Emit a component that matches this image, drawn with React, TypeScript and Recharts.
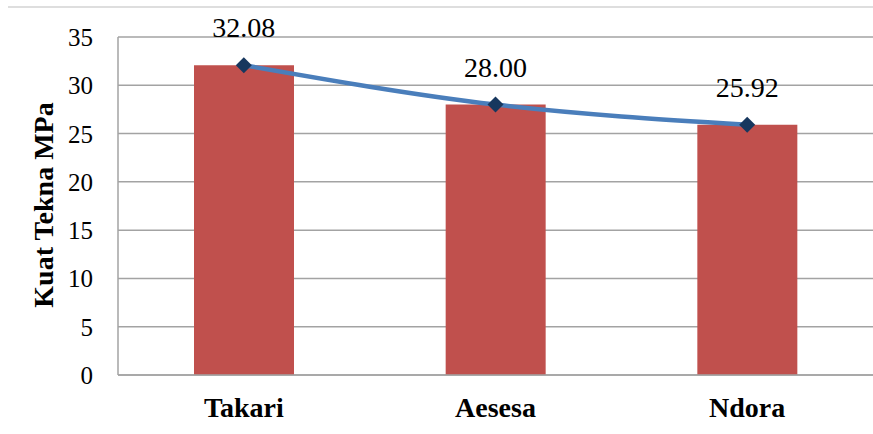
import React from "react";
import {
  ComposedChart, Bar, Line, XAxis, YAxis, CartesianGrid, LabelList, Label,
} from "recharts";

const SITES = ["Takari", "Aesesa", "Ndora"];
const STRENGTH = [32.08, 28.0, 25.92];
const Y_TICKS = [0, 5, 10, 15, 20, 25, 30, 35];

const SERIF = '"Liberation Serif", "Times New Roman", serif';
const GRID = "#a3a3a3";

const rows = SITES.map((site, i) => ({ site, bar: STRENGTH[i], line: STRENGTH[i] }));

// dark diamond marker on the trend line
const Diamond = (props: any) => {
  const { cx, cy, index } = props;
  const r = 8;
  return (
    <path
      key={`d-${index}`}
      d={`M${cx},${cy - r}L${cx + r},${cy}L${cx},${cy + r}L${cx - r},${cy}Z`}
      fill="#17375e"
    />
  );
};

const YTick = (props: any) => {
  const { x, y, payload } = props;
  return (
    <text x={x} y={y} dy={9} textAnchor="end" fontFamily={SERIF} fontSize={25} fill="#000">
      {payload.value}
    </text>
  );
};

const XTick = (props: any) => {
  const { x, y, payload } = props;
  return (
    <text x={x} y={y} dy={42} textAnchor="middle" fontFamily={SERIF} fontSize={28} fontWeight={700} fill="#000">
      {payload.value}
    </text>
  );
};

const ValueLabel = (props: any) => {
  const { x, y, value } = props;
  return (
    <text x={x} y={y - 28} textAnchor="middle" fontFamily={SERIF} fontSize={28} fill="#000">
      {Number(value).toFixed(2)}
    </text>
  );
};

export default function App() {
  return (
    <div style={{ position: "absolute", left: 0, top: 0, width: 873, height: 434, background: "#fff", fontFamily: SERIF }}>
      <div style={{ position: "absolute", left: 8, top: 6, width: 865, height: 2, background: "#dedede" }} />
      <ComposedChart
        width={873}
        height={434}
        data={rows}
        margin={{ top: 37, right: 0, bottom: 0, left: 0 }}
      >
        <CartesianGrid vertical={false} stroke={GRID} strokeWidth={1.5} />
        <XAxis
          dataKey="site"
          height={59}
          axisLine={{ stroke: GRID, strokeWidth: 1.5 }}
          tickLine={false}
          tickSize={0}
          tickMargin={0}
          tick={<XTick />}
        />
        <YAxis
          width={118}
          domain={[0, 35]}
          ticks={Y_TICKS}
          axisLine={{ stroke: GRID, strokeWidth: 1.5 }}
          tickLine={false}
          tickSize={0}
          tickMargin={25}
          tick={<YTick />}
        >
          <Label
            content={() => (
              <text
                x={43}
                y={205}
                transform="rotate(-90 43 205)"
                textAnchor="middle"
                dominantBaseline="central"
                fontFamily={SERIF}
                fontSize={28}
                fontWeight={700}
                fill="#000"
              >
                Kuat Tekna MPa
              </text>
            )}
          />
        </YAxis>
        <Bar dataKey="bar" fill="#c0504d" barSize={100} isAnimationActive={false} />
        <Line
          dataKey="line"
          type="monotone"
          stroke="#4a7ebb"
          strokeWidth={4.5}
          dot={Diamond}
          activeDot={false}
          isAnimationActive={false}
        >
          <LabelList dataKey="line" content={<ValueLabel />} />
        </Line>
      </ComposedChart>
    </div>
  );
}
